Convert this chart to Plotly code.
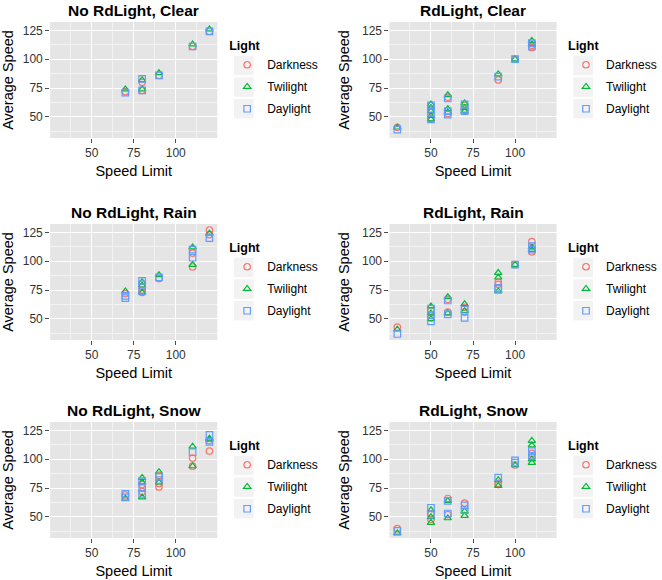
import plotly.graph_objects as go

FONT = "Liberation Sans, Arial, Helvetica, sans-serif"

panel_titles = ["No RdLight, Clear", "RdLight, Clear",
                "No RdLight, Rain", "RdLight, Rain",
                "No RdLight, Snow", "RdLight, Snow"]
light_levels = ["Darkness", "Twilight", "Daylight"]
light_colors = ["#F8766D", "#00BA38", "#619CFF"]
light_symbols = ["circle-open", "triangle-up-open", "square-open"]

x_ticks = [50, 75, 100]
y_ticks = [50, 75, 100, 125]
x_minor = [37.5, 62.5, 87.5, 112.5]
y_minor = [37.5, 62.5, 87.5, 112.5]

# ---- data: (speed limit, average speed) per panel and light level ----
norl_clear = {
    "Darkness": ([70, 80, 80, 90, 110, 120], [72, 80, 73, 86, 111, 124]),
    "Twilight": ([70, 80, 80, 90, 110, 120], [74, 82, 74, 88, 113, 126]),
    "Daylight": ([70, 80, 80, 90, 110, 120], [71, 83, 73, 86, 111, 124]),
}
rl_clear = {
    "Darkness": ([30, 50, 50, 60, 60, 70, 70, 90, 100, 110, 110],
                 [41, 56, 49, 67, 53, 60, 56, 82, 100, 112, 110]),
    "Twilight": ([30, 50, 50, 50, 50, 50, 60, 60, 60, 70, 70, 70, 90, 100, 110, 110],
                 [41, 61, 58, 55, 51, 48, 69, 57, 54, 62, 58, 55, 87, 100, 116, 113]),
    "Daylight": ([30, 50, 50, 50, 50, 60, 60, 60, 70, 70, 70, 90, 100, 110, 110],
                 [39, 60, 57, 54, 48, 66, 55, 52, 61, 57, 55, 85, 100, 114, 111]),
}
norl_rain = {
    "Darkness": ([70, 80, 80, 80, 90, 110, 110, 120, 120],
                 [72, 78, 75, 73, 85, 107, 95, 127, 123]),
    "Twilight": ([70, 80, 80, 80, 90, 110, 110, 120],
                 [74, 82, 79, 73, 88, 112, 97, 124]),
    "Daylight": ([70, 70, 80, 80, 80, 90, 110, 110, 120],
                 [70, 68, 83, 80, 74, 86, 110, 103, 120]),
}
rl_rain = {
    "Darkness": ([30, 50, 50, 60, 60, 70, 70, 90, 90, 100, 110, 110],
                 [43, 57, 51, 67, 56, 60, 56, 82, 80, 97, 117, 108]),
    "Twilight": ([30, 50, 50, 50, 60, 60, 70, 70, 90, 90, 90, 100, 110, 110],
                 [41, 61, 55, 50, 69, 55, 63, 57, 90, 86, 74, 97, 112, 110]),
    "Daylight": ([30, 50, 50, 50, 60, 60, 70, 70, 90, 90, 100, 110, 110],
                 [37, 59, 53, 48, 66, 54, 58, 51, 77, 76, 97, 113, 110]),
}
norl_snow = {
    "Darkness": ([70, 80, 80, 90, 90, 90, 110, 110, 120, 120],
                 [69, 78, 72, 86, 79, 76, 101, 94, 107, 116]),
    "Twilight": ([70, 80, 80, 80, 90, 90, 110, 110, 120, 120],
                 [66, 84, 80, 67, 89, 80, 111, 94, 117, 118]),
    "Daylight": ([70, 70, 80, 80, 80, 90, 90, 110, 120, 120],
                 [70, 67, 81, 75, 70, 85, 82, 106, 121, 115]),
}
rl_snow = {
    "Darkness": ([30, 50, 50, 60, 60, 70, 90, 90, 100, 110, 110],
                 [40, 53, 48, 66, 52, 62, 79, 78, 95, 105, 102]),
    "Twilight": ([30, 50, 50, 50, 60, 60, 70, 70, 90, 90, 100, 110, 110, 110, 110],
                 [36, 56, 50, 45, 64, 49, 55, 51, 82, 77, 95, 116, 112, 100, 97]),
    "Daylight": ([30, 50, 50, 60, 60, 70, 70, 90, 100, 100, 110, 110],
                 [38, 58, 52, 64, 53, 60, 56, 84, 99, 97, 107, 103]),
}
panels = [norl_clear, rl_clear, norl_rain, rl_rain, norl_snow, rl_snow]

# ---- layout geometry (pixels) ----
W, H = 662, 580
col_left = [51, 396]
col_width = 170
row_top = [22, 224, 422]
row_height = 116
x_range = [25.3, 124.7]
y_range = [31.8, 132.2]

fig = go.Figure()
layout = dict(
    width=W, height=H,
    margin=dict(l=0, r=0, t=0, b=0),
    paper_bgcolor="white", plot_bgcolor="#E5E5E5",
    font=dict(family=FONT, color="black"),
    annotations=[], shapes=[],
)

for i, data in enumerate(panels):
    r, c = divmod(i, 2)
    n = "" if i == 0 else str(i + 1)
    xa, ya = "x" + n, "y" + n
    lg = "legend" + n
    x0 = col_left[c]
    top = row_top[r]
    xdom = [x0 / W, (x0 + col_width) / W]
    ydom = [1 - (top + row_height) / H, 1 - top / H]

    for lvl, col, sym in zip(light_levels, light_colors, light_symbols):
        xs, ys = data[lvl]
        fig.add_trace(go.Scatter(
            x=xs, y=ys, mode="markers", name=lvl,
            xaxis=xa, yaxis=ya, legend=lg, legendgroup=f"{i}-{lvl}",
            marker=dict(symbol=sym, size=6.5, color=col,
                        line=dict(color=col, width=1.2)),
            hovertemplate="Speed Limit: %{x}<br>Average Speed: %{y}<extra>" + lvl + "</extra>",
        ))

    axis_common = dict(
        showline=False, zeroline=False, automargin=False,
        showgrid=True, gridcolor="white", gridwidth=1.3,
        ticks="outside", ticklen=4, tickwidth=1, tickcolor="#4D4D4D",
        tickfont=dict(size=12, color="#333333", family=FONT),
    )
    layout["xaxis" + n] = dict(
        axis_common, domain=xdom, anchor=ya, range=x_range,
        tickmode="array", tickvals=x_ticks,
        minor=dict(tickvals=x_minor, showgrid=True, gridcolor="#F2F2F2",
                   gridwidth=0.7, ticks=""),
        title=dict(text="Speed Limit", font=dict(size=14.5, family=FONT), standoff=6),
    )
    layout["yaxis" + n] = dict(
        axis_common, domain=ydom, anchor=xa, range=y_range,
        tickmode="array", tickvals=y_ticks,
        minor=dict(tickvals=y_minor, showgrid=True, gridcolor="#F2F2F2",
                   gridwidth=0.7, ticks=""),
        title=dict(text="Average Speed", font=dict(size=14.5, family=FONT), standoff=8),
    )

    layout["annotations"].append(dict(
        text="<b>" + panel_titles[i] + "</b>", showarrow=False,
        xref=xa + " domain", yref=ya + " domain", x=0.5, y=1,
        xanchor="center", yanchor="middle", yshift=11.5,
        font=dict(size=15.5, family=FONT, color="black"),
    ))

    right = x0 + col_width
    leg_x = right + 10
    layout[lg] = dict(
        x=leg_x / W, y=1 - (top + 12) / H, xanchor="left", yanchor="top",
        bgcolor="rgba(0,0,0,0)", borderwidth=0,
        title=dict(text="<b>Light</b>", font=dict(size=12.5, family=FONT)),
        font=dict(size=12, family=FONT, color="black"),
        tracegroupgap=3, itemsizing="trace",
    )

    # grey legend key backgrounds
    for k in range(3):
        ky0 = top + 33.7 + k * 21.6
        layout["shapes"].append(dict(
            type="rect", xref="paper", yref="paper", layer="below",
            x0=(right + 17) / W, x1=(right + 37) / W,
            y0=1 - (ky0 + 19.5) / H, y1=1 - ky0 / H,
            fillcolor="#F2F2F2", line=dict(width=0),
        ))

fig.update_layout(**layout)
fig.write_html("out.html",
               config={"displayModeBar": False},
               post_script="document.body.style.margin='0';document.body.style.padding='0';")
